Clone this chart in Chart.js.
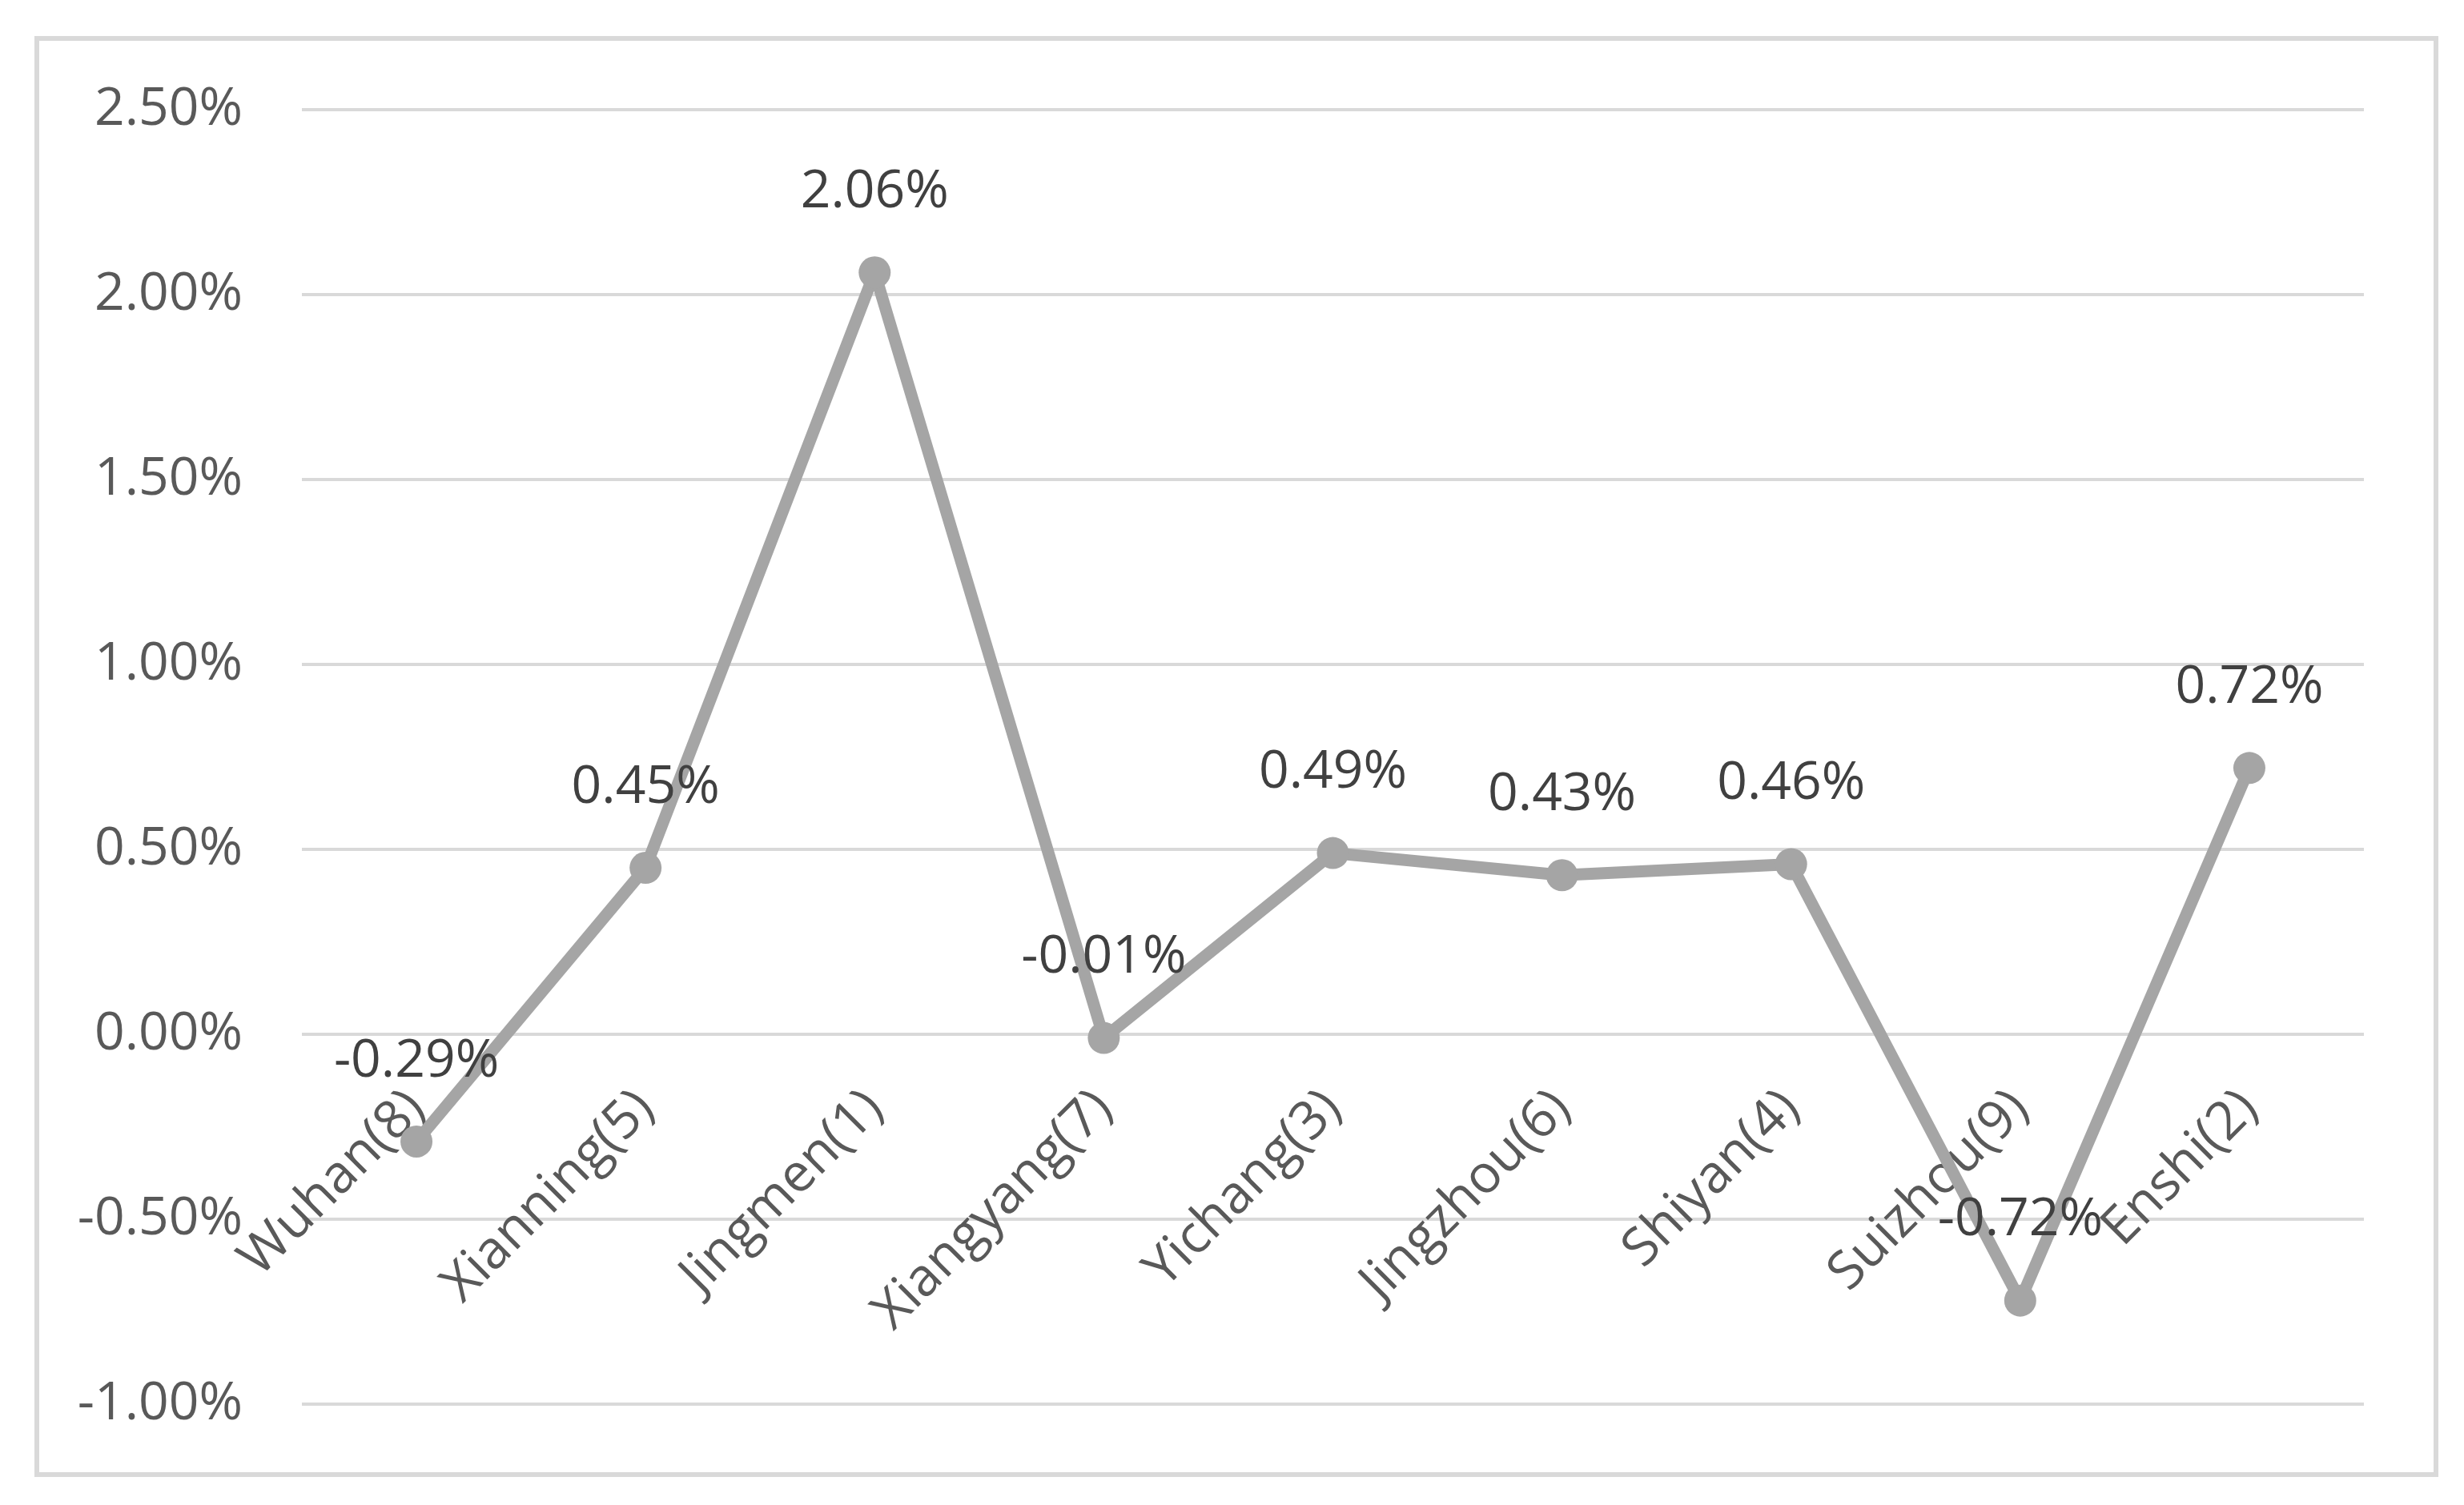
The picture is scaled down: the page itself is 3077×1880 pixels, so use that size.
<!DOCTYPE html>
<html>
<head>
<meta charset="utf-8">
<script src="https://cdn.jsdelivr.net/npm/chart.js@4/dist/chart.umd.min.js"></script>
<style>
  html, body { margin: 0; padding: 0; background: #ffffff; }
  canvas { display: block; }
</style>
</head>
<body>
<canvas id="myChart" width="3077" height="1880"></canvas>
<script>
// Chart data (values in percent)
const cities = ['Wuhan(8)', 'Xianning(5)', 'Jingmen(1)', 'Xiangyang(7)', 'Yichang(3)', 'Jingzhou(6)', 'Shiyan(4)', 'Suizhou(9)', 'Enshi(2)'];
const changes = [-0.29, 0.45, 2.06, -0.01, 0.49, 0.43, 0.46, -0.72, 0.72];
const yTicks = [-1.0, -0.5, 0.0, 0.5, 1.0, 1.5, 2.0, 2.5];

const fontFamily = '"Open Sans", "Noto Sans", sans-serif';
const lineColor = '#A5A5A5';
const gridColor = '#D9D9D9';

// White background plus the light grey frame round the whole chart
const framePlugin = {
    id: 'frame',
    beforeDraw(chart) {
        const ctx = chart.ctx;
        ctx.save();
        ctx.fillStyle = '#ffffff';
        ctx.fillRect(0, 0, chart.width, chart.height);
        ctx.strokeStyle = gridColor;
        ctx.lineWidth = 6;
        ctx.strokeRect(46, 48, 2996, 1794);
        ctx.restore();
    }
};

// Value labels above each point
const valueLabels = {
    id: 'valueLabels',
    afterDatasetsDraw(chart) {
        const ctx = chart.ctx;
        const meta = chart.getDatasetMeta(0);
        ctx.save();
        ctx.font = '66px ' + fontFamily;
        ctx.fillStyle = '#404040';
        ctx.textAlign = 'center';
        ctx.textBaseline = 'middle';
        meta.data.forEach((pt, i) => {
            ctx.fillText(changes[i].toFixed(2) + '%', pt.x, pt.y - 100);
        });
        ctx.restore();
    }
};

const ctx = document.getElementById('myChart').getContext('2d');
const myChart = new Chart(ctx, {
    type: 'line',
    data: {
        labels: cities,
        datasets: [{
            data: changes,
            borderColor: lineColor,
            backgroundColor: lineColor,
            borderWidth: 15,
            tension: 0,
            pointRadius: 20,
            pointBorderWidth: 0,
            pointBackgroundColor: lineColor,
            borderJoinStyle: 'round',
            borderCapStyle: 'round'
        }]
    },
    options: {
        responsive: false,
        animation: false,
        devicePixelRatio: 1,
        layout: {
            padding: { left: 0, top: 137, right: 125, bottom: 126 }
        },
        plugins: {
            legend: { display: false },
            tooltip: { enabled: false }
        },
        scales: {
            x: {
                type: 'category',
                offset: true,
                position: { y: 0 },
                grid: { display: false, drawTicks: false },
                border: { display: false },
                ticks: {
                    autoSkip: false,
                    minRotation: 45,
                    maxRotation: 45,
                    padding: 54,
                    color: '#595959',
                    font: { family: fontFamily, size: 66 }
                }
            },
            y: {
                min: -1,
                max: 2.5,
                afterBuildTicks(scale) {
                    scale.ticks = yTicks.map(v => ({ value: v }));
                },
                afterFit(scale) {
                    scale.width = 377;
                },
                grid: { color: gridColor, lineWidth: 4, drawTicks: false },
                border: { display: false },
                ticks: {
                    padding: 74,
                    color: '#595959',
                    font: { family: fontFamily, size: 66 },
                    callback: function (value) {
                        return value.toFixed(2) + '%';
                    }
                }
            }
        }
    },
    plugins: [framePlugin, valueLabels]
});
</script>
</body>
</html>
